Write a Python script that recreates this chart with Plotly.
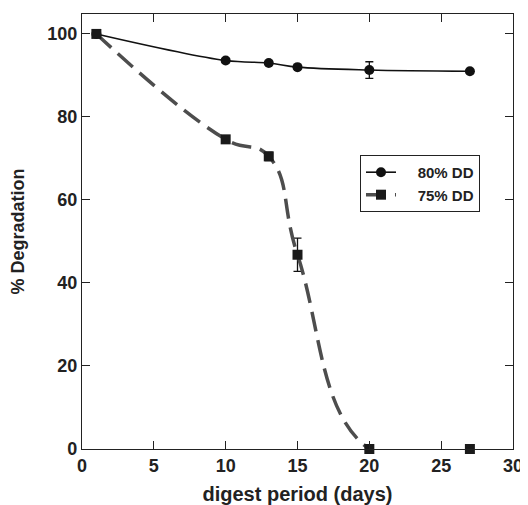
import plotly.graph_objects as go

days_80 = [1, 10, 13, 15, 20, 27]
deg_80 = [100, 93.6, 93.0, 92.0, 91.3, 91.0]
err_80 = [0, 0.5, 0.4, 0.4, 2.0, 0.3]

days_75 = [1, 10, 13, 15, 20, 27]
deg_75 = [100, 74.6, 70.5, 46.8, 0, 0]
err_75 = [0, 0.6, 1.0, 4.0, 0, 0]

x_ticks = [0, 5, 10, 15, 20, 25, 30]
y_ticks = [0, 20, 40, 60, 80, 100]

fnt = "Liberation Sans, Arial, sans-serif"
pad = "\u00a0" * 4

fig = go.Figure()
fig.add_trace(go.Scatter(
    x=days_80, y=deg_80, name=pad + "80% DD", mode="lines+markers",
    line=dict(color="#111111", width=1.6, shape="spline", smoothing=1.0),
    marker=dict(symbol="circle", size=10, color="#111111"),
    error_y=dict(type="data", array=err_80, color="#111111", thickness=1.3, width=4),
    cliponaxis=False,
))
fig.add_trace(go.Scatter(
    x=days_75, y=deg_75, name=pad + "75% DD", mode="lines+markers",
    line=dict(color="#4d4d4d", width=3.5, shape="spline", smoothing=1.3, dash="20px,9px"),
    marker=dict(symbol="square", size=10, color="#1a1a1a"),
    error_y=dict(type="data", array=err_75, color="#111111", thickness=1.3, width=4),
    cliponaxis=False,
))

axis_common = dict(
    showline=True, linecolor="#222222", linewidth=1.3, mirror="ticks",
    ticks="inside", ticklen=8, tickwidth=1.3, tickcolor="#222222",
    showgrid=False, zeroline=False, automargin=False,
    tickfont=dict(family=fnt, size=18, color="#222222", weight="bold"),
)

fig.update_layout(
    width=520, height=497,
    margin=dict(l=74, r=15, t=6, b=56),
    paper_bgcolor="white", plot_bgcolor="white",
    font=dict(family=fnt, color="#222222"),
    xaxis=dict(range=[0, 30], tickvals=x_ticks,
               title=dict(text="digest period (days)",
                          font=dict(family=fnt, size=20, weight="bold"), standoff=12),
               **axis_common),
    yaxis=dict(range=[0, 104.8], tickvals=y_ticks,
               title=dict(text="% Degradation",
                          font=dict(family=fnt, size=18, weight="bold"), standoff=18),
               **axis_common),
    legend=dict(x=0.645, y=0.676, xanchor="left", yanchor="top",
                bordercolor="#222222", borderwidth=1, bgcolor="white",
                font=dict(family=fnt, size=15, color="#222222", weight="bold"),
                tracegroupgap=0),
    showlegend=True,
)

fig.write_html("out.html")
